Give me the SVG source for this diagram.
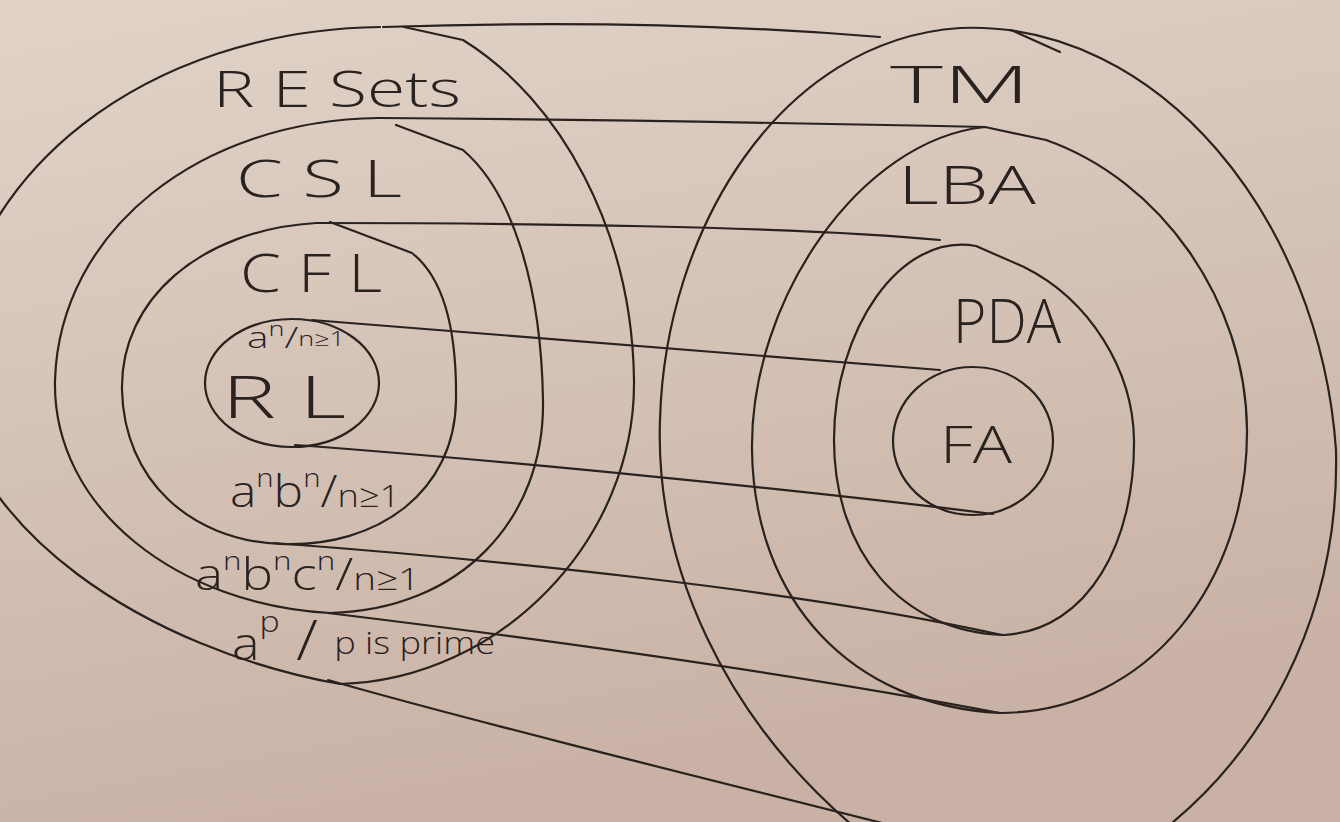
<svg xmlns="http://www.w3.org/2000/svg" width="1340" height="822" viewBox="0 0 1340 822">
<defs>
<linearGradient id="bg" x1="0" y1="0" x2="0.3" y2="1">
<stop offset="0" stop-color="#e1d3c8"/>
<stop offset="1" stop-color="#c9b2a5"/>
</linearGradient>
<style>
.ln{fill:none;stroke:#2a221f;stroke-width:2.2;stroke-linecap:round;stroke-linejoin:round}
.big{font-family:"Open Sans","Liberation Sans",sans-serif;font-weight:300;fill:#2a221f}
.sm{font-family:"Open Sans","Liberation Sans",sans-serif;font-weight:300;fill:#2a221f}
</style>
</defs>
<rect width="1340" height="822" fill="url(#bg)"/>

<g id="connectors">
<path class="ln" d="M383,27 Q650,18 880,37"/>
<path class="ln" d="M379,118 Q650,120 985,127"/>
<path class="ln" d="M316,223 C500,223 800,226 940,240"/>
<path class="ln" d="M312,320 L940,370"/>
<path class="ln" d="M295,445 C500,460 800,490 993,514"/>
<path class="ln" d="M274,543 C500,560 800,590 1002,635"/>
<path class="ln" d="M328,613 C550,640 800,675 1000,713"/>
<path class="ln" d="M328,680 C450,715 650,765 930,835"/>
</g>

<g id="re-sets">
<path class="ln" d="M380,27 C150,30 -40,170 -50,370 C-40,530 150,650 340,684 C500,680 636,540 634,380 C632,230 560,100 463,40 L404,27"/>
<text class="big" x="213" y="107" font-size="50" textLength="248" lengthAdjust="spacingAndGlyphs">R E Sets</text>
</g>
<g id="csl">
<path class="ln" d="M379,118 C200,120 60,230 55,380 C52,510 180,605 330,613 C460,610 545,520 543,400 C541,280 510,190 463,150 L396,125"/>
<text class="big" x="236" y="197" font-size="52" textLength="166" lengthAdjust="spacingAndGlyphs">C S L</text>
</g>
<g id="cfl">
<path class="ln" d="M316,223 C200,230 120,300 122,390 C124,480 190,540 280,544 C380,548 455,490 456,400 C457,320 440,275 412,253 L330,222"/>
<text class="big" x="240" y="292" font-size="54" textLength="142" lengthAdjust="spacingAndGlyphs">C F L</text>
</g>
<g id="rl">
<ellipse class="ln" cx="292" cy="383" rx="87" ry="64"/>
<text class="sm" x="247" y="348" font-size="30" textLength="98" lengthAdjust="spacingAndGlyphs">a<tspan font-size="20" dy="-12">n</tspan><tspan dy="12" font-size="30">/</tspan><tspan font-size="20" dy="-2">n≥1</tspan></text>
<text class="big" x="222" y="418" font-size="58" textLength="124" lengthAdjust="spacingAndGlyphs">R L</text>
</g>
<g id="lang-cfl-example">
<text class="sm" x="230" y="507" font-size="44" textLength="170" lengthAdjust="spacingAndGlyphs">a<tspan font-size="26" dy="-20">n</tspan><tspan dy="20">b</tspan><tspan font-size="26" dy="-20">n</tspan><tspan dy="20">/</tspan><tspan font-size="32">n≥1</tspan></text>
</g>
<g id="lang-csl-example">
<text class="sm" x="195" y="590" font-size="44" textLength="225" lengthAdjust="spacingAndGlyphs">a<tspan font-size="26" dy="-20">n</tspan><tspan dy="20">b</tspan><tspan font-size="26" dy="-20">n</tspan><tspan dy="20">c</tspan><tspan font-size="26" dy="-20">n</tspan><tspan dy="20">/</tspan><tspan font-size="32">n≥1</tspan></text>
</g>
<g id="lang-re-example">
<text class="sm" x="232" y="660" font-size="46" textLength="263" lengthAdjust="spacingAndGlyphs">a<tspan font-size="30" dy="-28">p</tspan><tspan dy="28" font-size="56"> / </tspan><tspan font-size="32" dy="-6">p is prime</tspan></text>
</g>

<g id="tm">
<path class="ln" d="M870,840 C720,720 655,560 660,420 C665,230 780,40 960,28 C1160,20 1320,220 1336,450 C1340,620 1260,760 1150,840"/>
<path class="ln" d="M1011,30 L1060,52"/>
<text class="big" x="890" y="103" font-size="52" textLength="140" lengthAdjust="spacingAndGlyphs">TM</text>
</g>
<g id="lba">
<path class="ln" d="M1046,140 L985,127 C860,140 750,300 752,450 C754,600 850,705 1000,713 C1150,712 1248,580 1247,430 C1246,300 1160,180 1046,140"/>
<text class="big" x="898" y="204" font-size="54" textLength="138" lengthAdjust="spacingAndGlyphs">LBA</text>
</g>
<g id="pda">
<path class="ln" d="M1024,267 L976,246 C900,232 834,330 834,440 C834,550 900,632 1004,635 C1090,630 1135,540 1134,440 C1133,370 1090,300 1024,267"/>
<text class="big" x="953" y="343" font-size="60" textLength="108" lengthAdjust="spacingAndGlyphs">PDA</text>
</g>
<g id="fa">
<ellipse class="ln" cx="973" cy="441" rx="80" ry="74"/>
<text class="big" x="940" y="463" font-size="52" textLength="72" lengthAdjust="spacingAndGlyphs">FA</text>
</g>
</svg>
